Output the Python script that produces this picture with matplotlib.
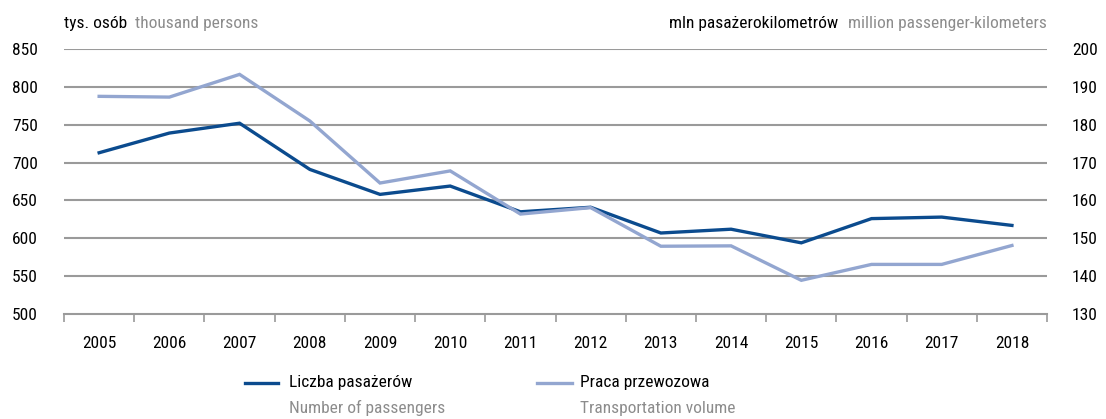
import matplotlib
matplotlib.use('Agg')
import matplotlib.pyplot as plt
from matplotlib import font_manager
from matplotlib.lines import Line2D

# Series: rail passengers (left axis) and passenger-km (right axis)
years = ['2005', '2006', '2007', '2008', '2009', '2010', '2011',
         '2012', '2013', '2014', '2015', '2016', '2017', '2018']
passengers = [713, 739, 752, 691, 658, 669, 635, 641, 607, 612, 594, 626, 628, 617]
pkm = [187.5, 187.3, 193.3, 181.0, 164.6, 167.8, 156.4, 158.1, 147.9, 148.0,
       138.9, 143.1, 143.1, 148.1]

left_ticks = [500, 550, 600, 650, 700, 750, 800, 850]
right_ticks = [130, 140, 150, 160, 170, 180, 190, 200]

DARK = '#0b4b8e'
LIGHT = '#93a6d0'
GREY_TXT = '#8c8c8c'
GRID = '#9a9a9a'

# prefer a narrow face, fall back to DejaVu condensed
installed = {f.name for f in font_manager.fontManager.ttflist}
candidates = ['Liberation Sans Narrow', 'Roboto Condensed', 'Open Sans Condensed',
              'DejaVu Sans Condensed', 'DejaVu Sans']
family = next(c for c in candidates if c in installed)
plt.rcParams['font.family'] = [family, 'DejaVu Sans']
plt.rcParams['font.stretch'] = 'condensed'
plt.rcParams['font.size'] = 12

fig = plt.figure(figsize=(11.06, 4.19), dpi=100)
ax = fig.add_axes([0.0579, 0.2506, 0.8888, 0.6324])
ax2 = ax.twinx()

x = list(range(len(years)))
ax.plot(x, passengers, color=DARK, lw=2.4, solid_joinstyle='miter', zorder=4)
ax2.plot(x, pkm, color=LIGHT, lw=2.4, solid_joinstyle='miter', zorder=3)

ax.set_xlim(-0.5, len(years) - 0.5)
ax.set_ylim(500, 850)
ax2.set_ylim(130, 200)
ax.set_yticks(left_ticks)
ax2.set_yticks(right_ticks)

ax.set_xticks(x)
ax.set_xticklabels(years)
ax.set_xticks([i - 0.5 for i in range(len(years) + 1)], minor=True)
ax.tick_params(axis='x', which='major', length=0, pad=16, labelsize=12.5)
ax.tick_params(axis='x', which='minor', length=6, width=1.2, color=GRID, direction='out')
ax.tick_params(axis='y', length=0, pad=19, labelsize=12.5)
ax2.tick_params(axis='y', length=0, pad=18, labelsize=12.5)

for a in (ax, ax2):
    for s in ('top', 'left', 'right'):
        a.spines[s].set_visible(False)
ax2.spines['bottom'].set_visible(False)
ax.spines['bottom'].set_color(GRID)
ax.spines['bottom'].set_linewidth(1.5)

for v in left_ticks[1:]:
    ax.axhline(v, color=GRID, lw=1.5, zorder=1)

# Unit headers
t1 = fig.text(0.0579, 0.945, 'tys. osób', fontsize=12.5, color='black', va='center')
ax.annotate('thousand persons', xy=(1, 0.5), xycoords=t1, xytext=(6, 0),
            textcoords='offset points', fontsize=12.5, color=GREY_TXT, va='center',
            annotation_clip=False)
t2 = fig.text(0.9467, 0.945, 'million passenger-kilometers', fontsize=12.5,
              color=GREY_TXT, va='center', ha='right')
ax.annotate('mln pasażerokilometrów', xy=(0, 0.5), xycoords=t2, xytext=(-7, 0),
            textcoords='offset points', fontsize=12.5, color='black', va='center',
            ha='right', annotation_clip=False)

# Legend
fig.add_artist(Line2D([0.2215, 0.2515], [0.086, 0.086], color=DARK, lw=2.4))
fig.text(0.2613, 0.086, 'Liczba pasażerów', fontsize=12.5, color='black', va='center')
fig.text(0.2613, 0.026, 'Number of passengers', fontsize=12.5, color=GREY_TXT, va='center')
fig.add_artist(Line2D([0.4855, 0.5172], [0.086, 0.086], color=LIGHT, lw=2.4))
fig.text(0.5244, 0.086, 'Praca przewozowa', fontsize=12.5, color='black', va='center')
fig.text(0.5244, 0.026, 'Transportation volume', fontsize=12.5, color=GREY_TXT, va='center')

fig.savefig('out.png', dpi=100)
